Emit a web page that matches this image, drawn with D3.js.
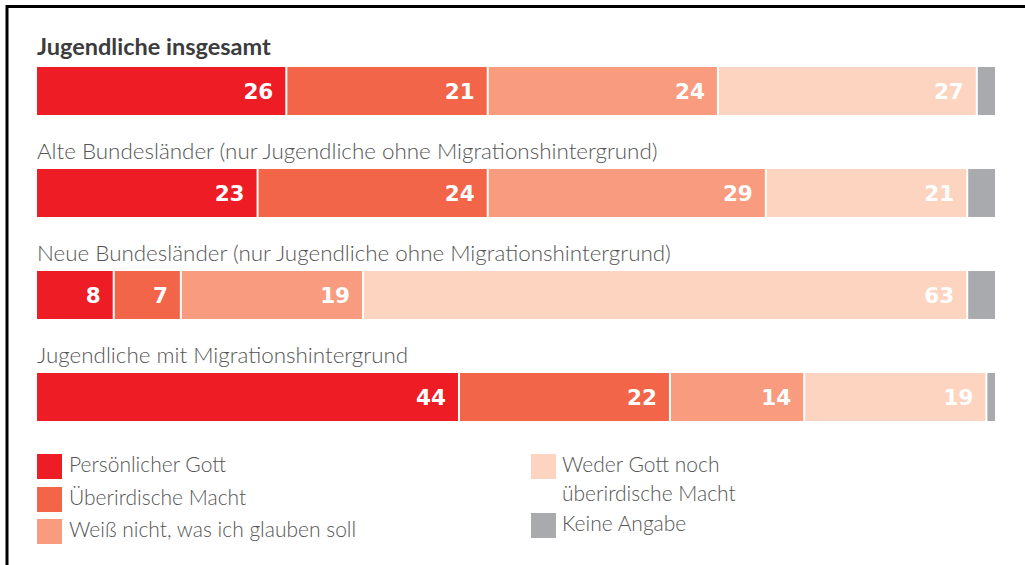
<!DOCTYPE html>
<html>
<head>
<meta charset="utf-8">
<script src="https://cdn.jsdelivr.net/npm/d3@7"></script>
<style>
  html, body { margin: 0; padding: 0; background: #fff; }
  svg { display: block; }
</style>
</head>
<body>
<svg id="chart" width="1025" height="565"></svg>
<script>
// ---------- data ----------
const groups = [
  "Jugendliche insgesamt",
  "Alte Bundesländer (nur Jugendliche ohne Migrationshintergrund)",
  "Neue Bundesländer (nur Jugendliche ohne Migrationshintergrund)",
  "Jugendliche mit Migrationshintergrund"
];
const seriesNames = [
  "Persönlicher Gott",
  "Überirdische Macht",
  "Weiß nicht, was ich glauben soll",
  "Weder Gott noch überirdische Macht",
  "Keine Angabe"
];
const persoenlicherGott = [26, 23, 8, 44];
const ueberirdischeMacht = [21, 24, 7, 22];
const weissNicht = [24, 29, 19, 14];
const wederNoch = [27, 21, 63, 19];
const keineAngabe = [2, 3, 3, 1];
const showLabel = [true, true, true, true, false];

// ---------- styling ----------
const colors = ["#ee1c25", "#f26549", "#f89b7e", "#fcd4bf", "#a8aaad"];

const svg = d3.select("#chart");

// frame
svg.append("line").attr("x1", 7).attr("x2", 1025).attr("y1", 6.5).attr("y2", 6.5)
  .attr("stroke", "#000").attr("stroke-width", 3);
svg.append("line").attr("x1", 7).attr("x2", 7).attr("y1", 5).attr("y2", 565)
  .attr("stroke", "#000").attr("stroke-width", 3);

const x = d3.scaleLinear().domain([0, 100]).range([37, 996]);
const y = d3.scaleBand().domain(groups).range([67, 421]).paddingInner(54 / 102).paddingOuter(0);

const allSeries = [persoenlicherGott, ueberirdischeMacht, weissNicht, wederNoch, keineAngabe];
const rows = groups.map((g, i) => {
  const r = { group: g };
  seriesNames.forEach((s, j) => r[s] = allSeries[j][i]);
  return r;
});
const stack = d3.stack().keys(seriesNames)(rows);

// group labels
svg.append("g").selectAll("text").data(groups).join("text")
  .attr("x", 37)
  .attr("y", (d, i) => y(d) - (i === 0 ? 12 : 10))
  .attr("font-family", "Lato, 'Open Sans', sans-serif")
  .attr("font-weight", (d, i) => i === 0 ? 700 : 300)
  .attr("font-size", (d, i) => i === 0 ? 23.5 : 22.4)
  .attr("fill", (d, i) => i === 0 ? "#3c3c3c" : "#555")
  .text(d => d);

// bars
const layers = svg.append("g").selectAll("g").data(stack).join("g")
  .attr("fill", (d, i) => colors[i]);

layers.selectAll("rect").data(d => d).join("rect")
  .attr("x", d => x(d[0]) + (d[0] > 0 ? 1 : 0))
  .attr("y", d => y(d.data.group))
  .attr("width", d => Math.max(0, x(d[1]) - x(d[0]) - (d[0] > 0 ? 1 : 0) - 1))
  .attr("height", y.bandwidth());

// value labels
layers.each(function (layer, li) {
  if (!showLabel[li]) return;
  d3.select(this).selectAll("text").data(layer).join("text")
    .attr("x", d => x(d[1]) - 13)
    .attr("y", d => y(d.data.group) + y.bandwidth() / 2 + 8)
    .attr("text-anchor", "end")
    .attr("font-family", "'DejaVu Sans', sans-serif")
    .attr("font-weight", 700)
    .attr("font-size", 21.5)
    .attr("fill", "#fff")
    .text(d => d[1] - d[0]);
});

// legend
const legendPos = [
  { x: 37, y: 454 }, { x: 37, y: 487 }, { x: 37, y: 519 },
  { x: 531, y: 454 }, { x: 531, y: 513 }
];
const legendLines = [
  ["Persönlicher Gott"], ["Überirdische Macht"], ["Weiß nicht, was ich glauben soll"],
  ["Weder Gott noch", "überirdische Macht"], ["Keine Angabe"]
];
const lg = svg.append("g").selectAll("g").data(seriesNames).join("g")
  .attr("transform", (d, i) => `translate(${legendPos[i].x},${legendPos[i].y})`);
lg.append("rect").attr("width", 25).attr("height", 25).attr("fill", (d, i) => colors[i]);
lg.append("text")
  .attr("x", (d, i) => i < 3 ? 32 : 31)
  .attr("y", 18)
  .attr("font-family", "Lato, 'Open Sans', sans-serif")
  .attr("font-weight", 300)
  .attr("font-size", 21)
  .attr("fill", "#555")
  .selectAll("tspan").data((d, i) => legendLines[i]).join("tspan")
  .attr("x", function () { return this.parentNode.getAttribute("x"); })
  .attr("dy", (d, i) => i === 0 ? 0 : 29)
  .text(d => d);
</script>
</body>
</html>
